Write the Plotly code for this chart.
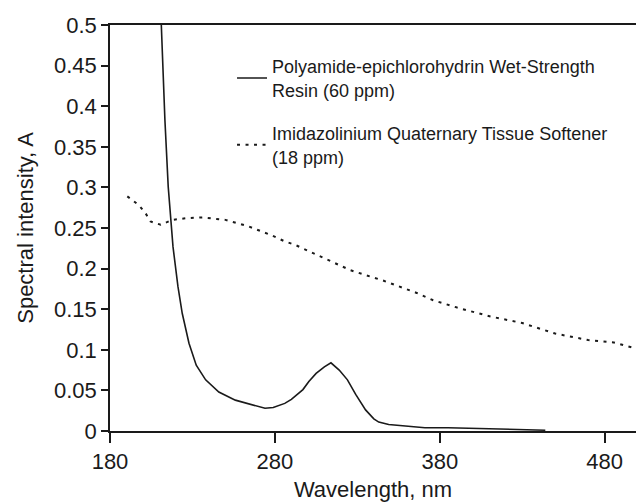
import plotly.graph_objects as go

resin_name = "Polyamide-epichlorohydrin Wet-Strength<br>Resin (60 ppm)"
soft_name = "Imidazolinium Quaternary Tissue Softener<br>(18 ppm)"

resin_wl = [210, 211, 213.3, 215.3, 218.2, 221.2, 223.8, 227.9, 232.3, 238, 246, 256, 266, 274, 279,
            286, 290, 294.5, 297, 300.6, 305, 310, 314, 319, 324, 329, 335, 340, 343, 349, 359, 371,
            385, 407.5, 409.5, 444]
resin_A = [0.56, 0.50, 0.383, 0.301, 0.227, 0.178, 0.145, 0.108, 0.081, 0.063, 0.048, 0.038, 0.032, 0.028, 0.029,
           0.034, 0.039, 0.046, 0.051, 0.061, 0.071, 0.079, 0.084, 0.075, 0.063, 0.045, 0.026, 0.015, 0.011, 0.008, 0.006, 0.004,
           0.004, 0.003, 0.002, 0.001]

soft_wl = [190.5, 197.6, 201.6, 204.6, 210.7, 217.8, 226, 236, 250, 264, 278, 285.5, 292.5, 305.6, 325.8,
           346, 366, 376, 390.5, 410.7, 430, 450, 470, 485.5, 496.5]
soft_A = [0.289, 0.278, 0.268, 0.258, 0.254, 0.260, 0.262, 0.263, 0.260, 0.252, 0.241, 0.234, 0.229, 0.217, 0.198,
          0.185, 0.170, 0.161, 0.152, 0.141, 0.133, 0.120, 0.112, 0.109, 0.103]

x_ticks = [180, 280, 380, 480]
x_ticktext = ["180", "280", "380", "480"]
y_ticks = [0, 0.05, 0.1, 0.15, 0.2, 0.25, 0.3, 0.35, 0.4, 0.45, 0.5]
y_ticktext = ["0", "0.05", "0.1", "0.15", "0.2", "0.25", "0.3", "0.35", "0.4", "0.45", "0.5"]

FONT = "Arial, Liberation Sans, sans-serif"
INK = "#1a1a1a"

fig = go.Figure()
fig.add_trace(go.Scatter(x=resin_wl, y=resin_A, mode="lines", name=resin_name, legendgroup="resin",
                         line=dict(color=INK, width=1.6)))
fig.add_trace(go.Scatter(x=soft_wl, y=soft_A, mode="lines", name=soft_name, legendgroup="soft",
                         line=dict(color=INK, width=2, dash="3px,5.5px")))

fig.update_layout(
    width=636, height=503,
    margin=dict(l=110, r=0, t=25, b=72),
    paper_bgcolor="white", plot_bgcolor="white",
    font=dict(family=FONT, color=INK, size=22),
    showlegend=True,
    legend=dict(x=0.232, y=0.943, xanchor="left", yanchor="top",
                font=dict(size=18, family=FONT, color=INK),
                bgcolor="rgba(0,0,0,0)", tracegroupgap=17),
    xaxis=dict(range=[180, 499], tickvals=x_ticks, ticktext=x_ticktext,
               showgrid=False, zeroline=False, showline=True, linecolor=INK, linewidth=1.5,
               mirror=True, ticks="outside", ticklen=10, tickwidth=1.5, tickcolor=INK,
               tickfont=dict(size=22),
               title=dict(text="Wavelength, nm", font=dict(size=22), standoff=8)),
    yaxis=dict(range=[0, 0.5], tickvals=y_ticks, ticktext=y_ticktext,
               showgrid=False, zeroline=False, showline=True, linecolor=INK, linewidth=1.5,
               ticks="outside", ticklen=7, tickwidth=1.5, tickcolor=INK,
               tickfont=dict(size=22),
               title=dict(text="Spectral intensity, A", font=dict(size=22), standoff=14)),
)

fig.write_html("out.html")
